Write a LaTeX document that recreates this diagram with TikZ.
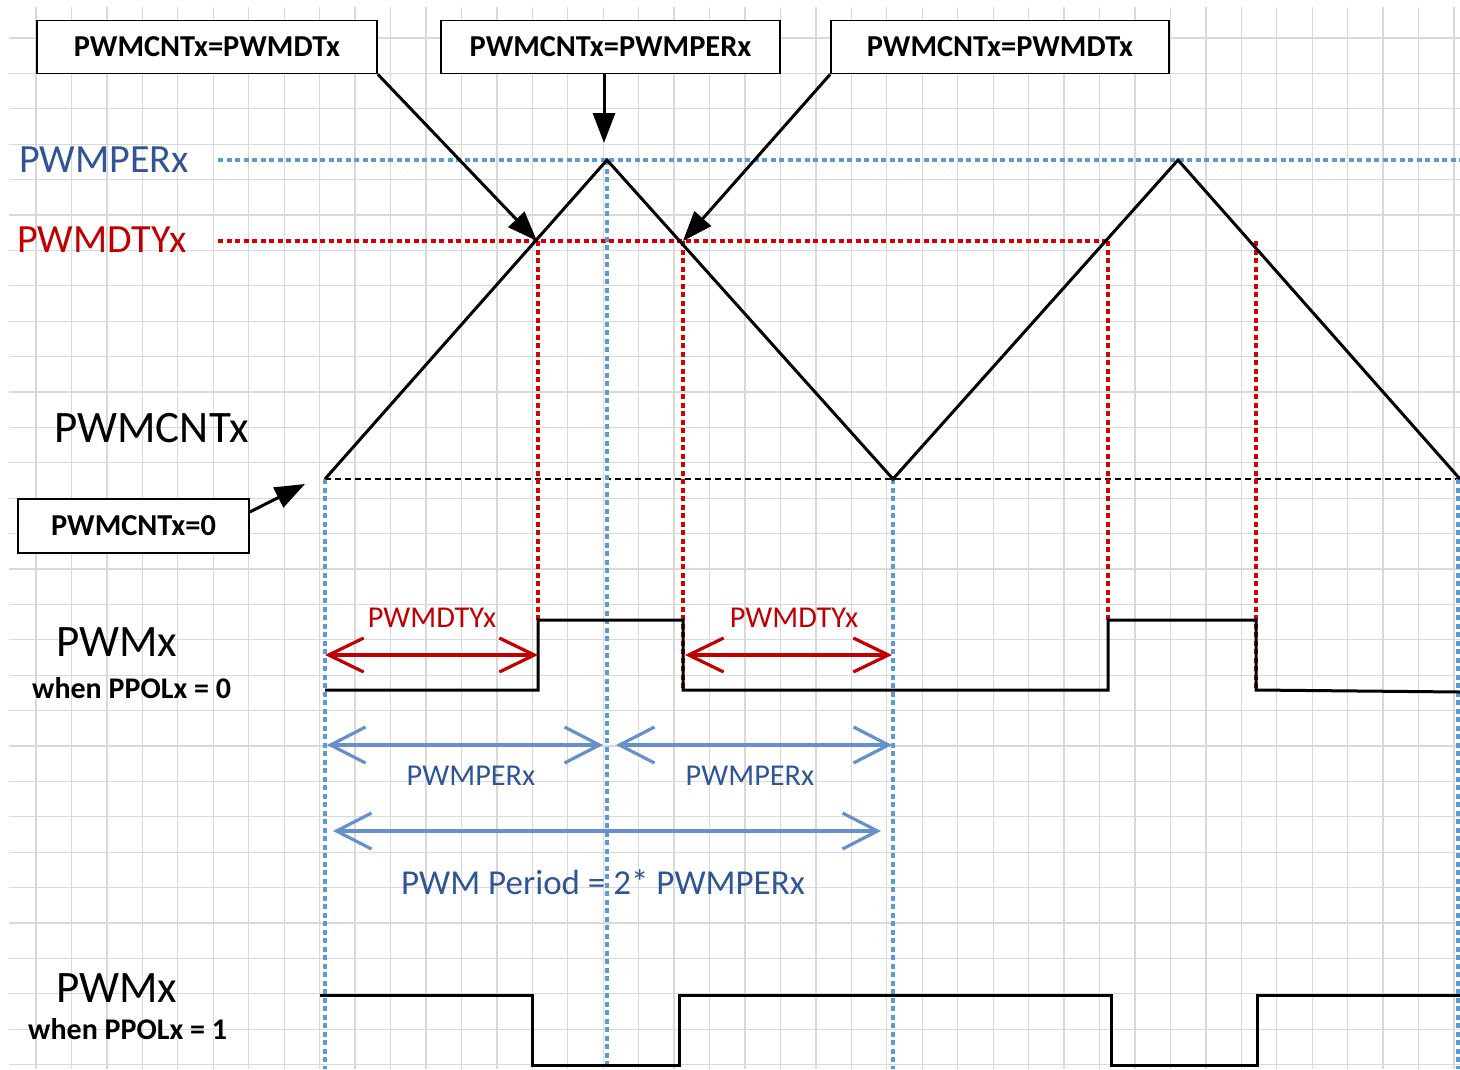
\documentclass[tikz,border=0pt]{standalone}
\usepackage{fontspec}
\setmainfont{Carlito}
\usetikzlibrary{arrows.meta}
\definecolor{gridc}{HTML}{D9D9D9}
\definecolor{dblue}{HTML}{5B9BD5}
\definecolor{tblue}{HTML}{2F5597}
\definecolor{ablue}{HTML}{6690CC}
\definecolor{tred}{HTML}{C00000}
\definecolor{dred}{HTML}{D40000}
\begin{document}
\begin{tikzpicture}[x=1pt,y=-1pt,
  gridline/.style={gridc, line width=1.3pt},
  bluedash/.style={dblue, line width=3.2pt, dash pattern=on 5pt off 3.5pt},
  reddash/.style={dred, line width=3.2pt, dash pattern=on 5pt off 3.5pt},
  blackdash/.style={black, line width=2.8pt, dash pattern=on 6pt off 4pt},
  wave/.style={black, line width=3pt, line join=miter},
  callout/.style={draw, fill=white, line width=1.6pt, minimum height=53pt, inner sep=0pt,
    font=\bfseries\fontsize{30.4}{32}\selectfont},
  pointer/.style={black, line width=3pt, -{Triangle[length=30pt,width=22pt]}},
  redspan/.style={tred, line width=3.2pt,
    {Straight Barb[length=35pt,width=34pt]}-{Straight Barb[length=35pt,width=34pt]}},
  bluespan/.style={ablue, line width=3.2pt,
    {Straight Barb[length=35pt,width=36pt]}-{Straight Barb[length=35pt,width=36pt]}},
  biglabel/.style={font=\fontsize{40}{44}\selectfont, anchor=west, inner sep=0pt},
  hugelabel/.style={font=\fontsize{45}{48}\selectfont, anchor=west, inner sep=0pt},
  smalllabel/.style={font=\bfseries\fontsize{30}{32}\selectfont, anchor=west, inner sep=0pt},
  spanlabel/.style={font=\fontsize{30.3}{32}\selectfont, inner sep=0pt}
]
% canvas
\fill[white] (0,0) rectangle (1460,1069);
\useasboundingbox (0,0) rectangle (1460,1069);

% grid
\foreach \k in {0,...,40} \draw[gridline] ({36+35.45*\k},7) -- ({36+35.45*\k},1069);
\foreach \k in {0,...,29} \draw[gridline] (9,{38+35.4*\k}) -- (1460,{38+35.4*\k});

% key points of the counter
\coordinate (z0) at (325,479);
\coordinate (p1) at (607,160);
\coordinate (z1) at (893,479);
\coordinate (p2) at (1178,160);
\coordinate (z2) at (1460,479);
\coordinate (d1) at (537,241);
\coordinate (d2) at (683,241);
\coordinate (pa) at (604,143);
\coordinate (za) at (305,484);

% reference levels
\draw[bluedash] (218,160) -- (1460,160);
\draw[reddash] (218,241) -- (1108,241);
\draw[blackdash] (z0) -- (z2);

% vertical guides
\draw[bluedash] (325,479) -- (325,1069);
\draw[bluedash] (607,160) -- (607,1069);
\draw[bluedash] (893,479) -- (893,1069);
\draw[bluedash] (1458,479) -- (1458,1069);
\draw[reddash] (538,241) -- (538,620);
\draw[reddash] (683,241) -- (683,690);
\draw[reddash] (1108,241) -- (1108,620);
\draw[reddash] (1256,241) -- (1256,690);

% counter
\draw[wave] (z0) -- (p1) -- (z1) -- (p2) -- (z2);

% PWM outputs
\draw[wave] (325,690) -- (538,690) -- (538,620) -- (683,620) -- (683,690) -- (1108,690)
  -- (1108,620) -- (1256,620) -- (1256,690) -- (1460,692);
\draw[wave] (320,995) -- (532,995) -- (532,1065) -- (679,1065) -- (679,995) -- (1111,995)
  -- (1111,1065) -- (1257,1065) -- (1257,995) -- (1460,995);

% spans
\coordinate (r1a) at (325,655); \coordinate (r1b) at (538,655);
\coordinate (r2a) at (685,655); \coordinate (r2b) at (892,655);
\draw[redspan] (r1a) -- (r1b);
\draw[redspan] (r2a) -- (r2b);
\coordinate (b1a) at (327,745); \coordinate (b1b) at (603,745);
\coordinate (b2a) at (616,745); \coordinate (b2b) at (892,745);
\draw[bluespan] (b1a) -- (b1b);
\draw[bluespan] (b2a) -- (b2b);
\coordinate (b3a) at (333,831); \coordinate (b3b) at (881,831);
\draw[bluespan] (b3a) -- (b3b);

\node[spanlabel, tred] (sl1) at (432,618) {PWMDTYx};
\node[spanlabel, tred] (sl2) at (794,618) {PWMDTYx};
\node[spanlabel, tblue] (sl3) at (471,776) {PWMPERx};
\node[spanlabel, tblue] (sl4) at (750,776) {PWMPERx};
\node[font=\fontsize{35}{38}\selectfont, inner sep=0pt, tblue] (sl5) at (603,882) {PWM Period = 2* PWMPERx};

% left labels
\node[biglabel, tblue] (lper) at (19,160) {PWMPERx};
\node[biglabel, tred] (ldty) at (17,240) {PWMDTYx};
\node[hugelabel] (lcnt) at (54,428) {PWMCNTx};
\node[hugelabel] (lpwm0) at (56,642) {PWMx};
\node[smalllabel] (lpol0) at (32,688) {when PPOLx = 0};
\node[hugelabel] (lpwm1) at (56,988) {PWMx};
\node[smalllabel] (lpol1) at (28,1029) {when PPOLx = 1};

% callouts
\node[callout, minimum width=340pt] (c1) at (207,47) {PWMCNTx=PWMDTx};
\node[callout, minimum width=339pt] (c2) at (610.5,47) {PWMCNTx=PWMPERx};
\node[callout, minimum width=338pt] (c3) at (1000,47) {PWMCNTx=PWMDTx};
\node[callout, minimum width=231pt, minimum height=54pt] (c4) at (133.5,526) {PWMCNTx=0};

\draw[pointer] (c1.south east) -- (d1);
\draw[pointer] (c2.south -| pa) -- (pa);
\draw[pointer] (c3.south west) -- (d2);
\draw[pointer] ([yshift=14pt]c4.east) -- (za);
\end{tikzpicture}
\end{document}
